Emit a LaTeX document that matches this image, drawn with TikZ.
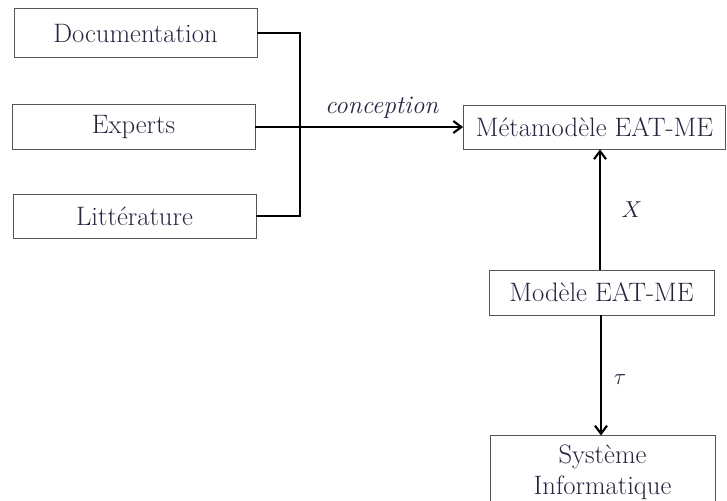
\documentclass[tikz,border=0pt]{standalone}
\usetikzlibrary{arrows.meta}
\definecolor{txt}{HTML}{2C2240}
\definecolor{boxline}{HTML}{555555}
\begin{document}
\begin{tikzpicture}[x=0.75pt,y=-0.75pt,
  box/.style={draw=boxline,line width=0.6pt,text=txt,font=\fontsize{20}{23}\selectfont,inner sep=0pt,align=center},
  conn/.style={line width=1.8pt},
  arr/.style={conn,-{Straight Barb[length=6pt,width=9pt,line width=1.6pt]}},
  lab/.style={text=txt,font=\fontsize{19}{22}\selectfont}]
\useasboundingbox (0,0) rectangle (727,500);
\node[box,minimum width=182.25pt,minimum height=36.75pt] (doc) at (135.5,33) {Documentation};
\node[box,minimum width=182.25pt,minimum height=33.75pt] (exp) at (133.5,127) {Experts};
\node[box,minimum width=182.25pt,minimum height=33pt] (lit) at (134.5,216) {Littérature};
\node[box,minimum width=196.5pt,minimum height=33pt] (meta) at (594.5,127) {Métamodèle EAT-ME};
\node[box,minimum width=168.75pt,minimum height=33.75pt] (mod) at (601.5,292.5) {Modèle EAT-ME};
\node[box,minimum width=168.75pt,minimum height=55pt] (sys) at (602.5,472.5) {Système\\Informatique};
\coordinate (bt) at (300,33);
\coordinate (bb) at (300,216);
\draw[conn,line join=miter] (doc.east) -- (bt) -- (bb) -- (lit.east);
\draw[arr] (exp.east) -- (meta.west);
\node[lab] (conc) at (382,108) {\textit{conception}};
\draw[arr] (mod.north -| 600,0) -- (meta.south -| 600,0);
\node[lab] (xl) at (632,210) {$X$};
\draw[arr] (mod.south -| 601,0) -- (sys.north -| 601,0);
\node[lab] (tl) at (620,380) {$\tau$};
\end{tikzpicture}
\end{document}
